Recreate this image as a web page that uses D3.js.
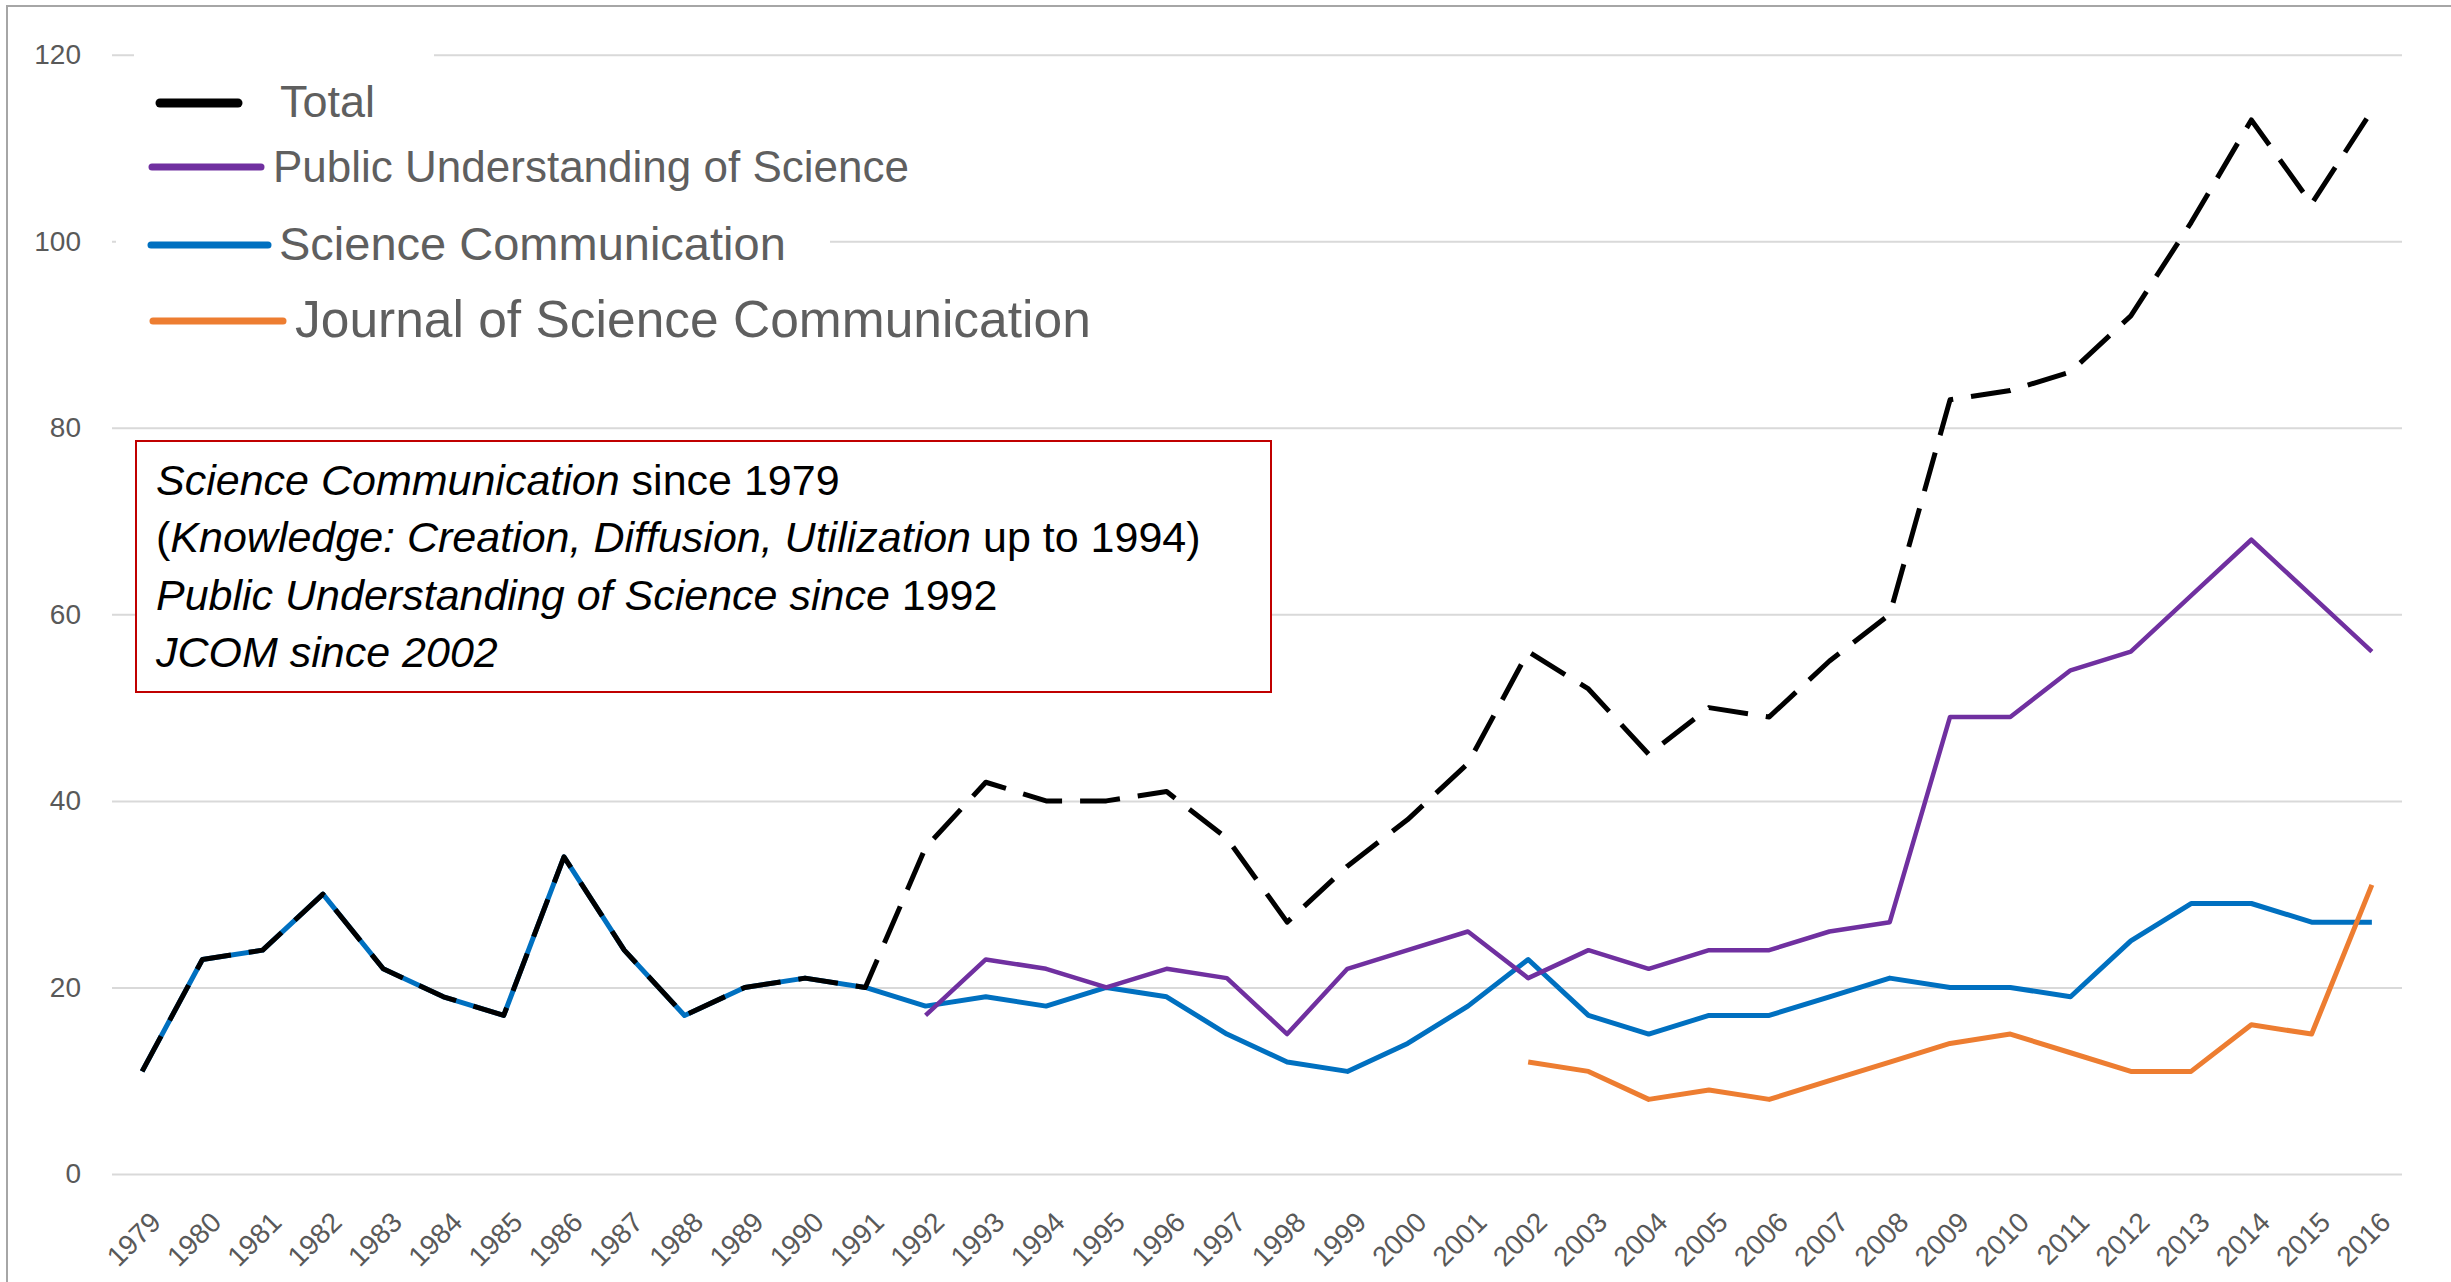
<!DOCTYPE html>
<html>
<head>
<meta charset="utf-8">
<script src="https://cdn.jsdelivr.net/npm/d3@7"></script>
<style>
  html, body { margin: 0; padding: 0; background: #fff; }
  svg { display: block; font-family: "Liberation Sans", Arial, sans-serif; }
</style>
</head>
<body>
<svg id="chart" width="2451" height="1282"></svg>
<script>
// categories (years on the x axis)
const years = ["1979","1980","1981","1982","1983","1984","1985","1986","1987","1988",
  "1989","1990","1991","1992","1993","1994","1995","1996","1997","1998","1999","2000",
  "2001","2002","2003","2004","2005","2006","2007","2008","2009","2010","2011","2012",
  "2013","2014","2015","2016"];

// article counts per year, null = journal not yet published
const total = [11,23,24,30,22,19,17,34,24,17,20,21,20,35,42,40,40,41,36,27,33,38,
  44,56,52,45,50,49,55,60,83,84,86,92,102,113,104,114];
const pus = [null,null,null,null,null,null,null,null,null,null,null,null,null,
  17,23,22,20,22,21,15,22,24,26,21,24,22,24,24,26,27,49,49,54,56,62,68,62,56];
const scicom = [11,23,24,30,22,19,17,34,24,17,20,21,20,18,19,18,20,19,15,12,11,14,
  18,23,17,15,17,17,19,21,20,20,19,25,29,29,27,27];
const jcom = [null,null,null,null,null,null,null,null,null,null,null,null,null,
  null,null,null,null,null,null,null,null,null,null,12,11,8,9,8,10,12,14,15,13,11,11,16,15,31];

const yTicks = [0, 20, 40, 60, 80, 100, 120];

const legendNames = ["Total", "Public Understanding of Science", "Science Communication",
  "Journal of Science Communication"];

const svg = d3.select("#chart");

// chart frame
svg.append("rect")
  .attr("x", 7).attr("y", 6)
  .attr("width", 2600).attr("height", 1400)
  .attr("fill", "none")
  .attr("stroke", "#a6a6a6")
  .attr("stroke-width", 2);

const x = d3.scalePoint()
  .domain(years)
  .range([112, 2402])
  .padding(0.5);

const y = d3.scaleLinear()
  .domain([0, 120])
  .range([1174, 54.7]);

// gridlines + y labels
const yAxis = svg.append("g")
  .attr("transform", "translate(112,0)")
  .call(d3.axisLeft(y).tickValues(yTicks).tickSize(-2290).tickPadding(31));
yAxis.select(".domain").remove();
yAxis.selectAll(".tick line").attr("stroke", "#d9d9d9").attr("stroke-width", 2);
yAxis.selectAll(".tick text")
  .attr("fill", "#595959")
  .style("font-size", "28px")
  .style("font-family", "'Liberation Sans', Arial, sans-serif");

// x labels, rotated like Excel
const xAxis = svg.append("g")
  .attr("transform", "translate(0,1174)")
  .call(d3.axisBottom(x).tickSize(0).tickPadding(0));
xAxis.select(".domain").remove();
xAxis.selectAll(".tick text")
  .attr("fill", "#595959")
  .style("font-size", "28px")
  .style("font-family", "'Liberation Sans', Arial, sans-serif")
  .attr("text-anchor", "end")
  .attr("dy", 0)
  .attr("transform", "translate(20,50) rotate(-45)");

// series lines
const line = d3.line()
  .defined(d => d != null)
  .x((d, i) => x(years[i]))
  .y(d => y(d));

const series = [
  { values: scicom, color: "#0070c0", width: 5, dash: null },
  { values: pus, color: "#7030a0", width: 4.5, dash: null },
  { values: jcom, color: "#ed7d31", width: 5, dash: null },
  { values: total, color: "#000000", width: 5, dash: "40,18" }
];

svg.append("g").selectAll("path")
  .data(series)
  .join("path")
  .attr("d", d => line(d.values))
  .attr("fill", "none")
  .attr("stroke", d => d.color)
  .attr("stroke-width", d => d.width)
  .attr("stroke-dasharray", d => d.dash)
  .attr("stroke-linejoin", "round");

// legend (pasted boxes with white background)
const legendItems = [
  { name: legendNames[0], color: "#000000", x1: 160, x2: 238, ly: 103, tx: 280, ty: 117, fs: 45, sw: 9, bg: [134, 40, 300, 100] },
  { name: legendNames[1], color: "#7030a0", x1: 152, x2: 261, ly: 167, tx: 273, ty: 182, fs: 44, sw: 7, bg: [140, 140, 780, 60] },
  { name: legendNames[2], color: "#0070c0", x1: 151, x2: 268, ly: 245, tx: 279, ty: 260, fs: 47, sw: 7, bg: [116, 212, 714, 66] },
  { name: legendNames[3], color: "#ed7d31", x1: 153, x2: 283, ly: 321, tx: 295, ty: 337, fs: 51.5, sw: 7, bg: [140, 288, 970, 66] }
];

const legend = svg.append("g");
legend.selectAll("rect")
  .data(legendItems)
  .join("rect")
  .attr("x", d => d.bg[0]).attr("y", d => d.bg[1])
  .attr("width", d => d.bg[2]).attr("height", d => d.bg[3])
  .attr("fill", "#fff");
legend.selectAll("line")
  .data(legendItems)
  .join("line")
  .attr("x1", d => d.x1).attr("x2", d => d.x2)
  .attr("y1", d => d.ly).attr("y2", d => d.ly)
  .attr("stroke", d => d.color)
  .attr("stroke-width", d => d.sw)
  .attr("stroke-linecap", "round");
legend.selectAll("text")
  .data(legendItems)
  .join("text")
  .attr("x", d => d.tx).attr("y", d => d.ty)
  .attr("fill", "#5f5f5f")
  .style("font-size", d => d.fs + "px")
  .text(d => d.name);

// note box
const note = svg.append("g");
note.append("rect")
  .attr("x", 136).attr("y", 441)
  .attr("width", 1135).attr("height", 251)
  .attr("fill", "#fff")
  .attr("stroke", "#c00000")
  .attr("stroke-width", 2);

const noteLines = [
  [["Science Communication", true], [" since 1979", false]],
  [["(", false], ["Knowledge: Creation, Diffusion, Utilization", true], [" up to 1994)", false]],
  [["Public Understanding of Science since", true], [" 1992", false]],
  [["JCOM since 2002", true]]
];

noteLines.forEach((parts, i) => {
  const t = note.append("text")
    .attr("x", 156)
    .attr("y", 495 + i * 57.3)
    .attr("fill", "#000")
    .style("font-size", "43px");
  parts.forEach(p => {
    t.append("tspan")
      .style("font-style", p[1] ? "italic" : "normal")
      .text(p[0]);
  });
});
</script>
</body>
</html>
